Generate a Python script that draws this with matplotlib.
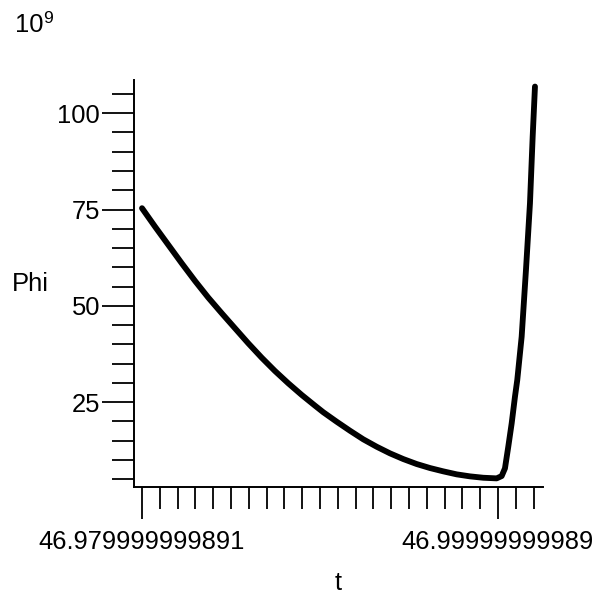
import matplotlib
matplotlib.use("Agg")
import matplotlib.pyplot as plt
import numpy as np

# t is stored as offset from T0
T0 = 46.979999999891
t_offset = [0.0, 0.00073, 0.00148, 0.00223, 0.00298, 0.003725, 0.00448,
            0.005225, 0.00597, 0.006725, 0.00747, 0.00822, 0.00897, 0.00972,
            0.010185, 0.010938, 0.011685, 0.012433, 0.013185, 0.013933,
            0.01468, 0.015433, 0.01618, 0.016927, 0.01768, 0.018427,
            0.019174, 0.019927, 0.020208, 0.020393, 0.020579, 0.02077,
            0.020955, 0.021084, 0.021331, 0.021573, 0.021798, 0.02195, 0.022079]
phi = [75.34, 70.56, 65.81, 61.06, 56.46, 52.13, 48.08,
       44.18, 40.29, 36.55, 33.10, 29.9, 26.9, 24.1,
       22.4, 19.94, 17.60, 15.37, 13.45, 11.73,
       10.25, 8.96, 7.92, 7.06, 6.28, 5.76,
       5.40, 5.24, 5.84, 7.84, 13.45, 19.52,
       26.43, 30.76, 42.0, 59.32, 76.64, 93.93, 106.9]

xtick_labels = ['46.979999999891', '46.99999999989']
ytick_major = [25, 50, 75, 100]

plt.rcParams['font.family'] = ['Liberation Sans', 'DejaVu Sans']

W, H = 602, 595
fig = plt.figure(figsize=(W / 100, H / 100), dpi=100)
ax = fig.add_axes([134 / W, (H - 487) / H, (543 - 134) / W, (487 - 80) / H])

t = T0 + np.array(t_offset)
ax.plot(t, phi, color='black', lw=4.2, solid_capstyle='round',
        solid_joinstyle='round', clip_on=False)

ax.set_xlim(T0 - 0.00045, T0 + 0.02253)
ax.set_ylim(3.0, 108.6)

for s in ['top', 'right']:
    ax.spines[s].set_visible(False)
for s in ['left', 'bottom']:
    ax.spines[s].set_linewidth(1.4)

ax.set_xticks([T0, T0 + 0.02])
ax.set_xticklabels(xtick_labels)
ax.set_xticks([T0 + k * 0.001 for k in range(23)], minor=True)
ax.set_yticks(ytick_major)
ax.set_yticklabels([str(v) for v in ytick_major])
ax.set_yticks(list(range(5, 110, 5)), minor=True)

ax.tick_params(axis='both', which='major', direction='out', length=23,
               width=1.3, labelsize=18.4, colors='black')
ax.tick_params(axis='both', which='minor', direction='out', length=16, width=1.3)
ax.tick_params(axis='x', which='major', pad=8)
ax.tick_params(axis='y', which='major', pad=1.5)

fig.text(30 / W, 1 - 284 / H, 'Phi', fontsize=18.4, ha='center', va='center')
fig.text(338 / W, 1 - 583 / H, 't', fontsize=18.4, ha='center', va='center')
fig.text(15 / W, 1 - 32 / H, '10', fontsize=18.4, ha='left', va='baseline')
fig.text(43 / W, 1 - 11 / H, '9', fontsize=12.5, ha='left', va='top')

fig.savefig('out.png', dpi=100)
